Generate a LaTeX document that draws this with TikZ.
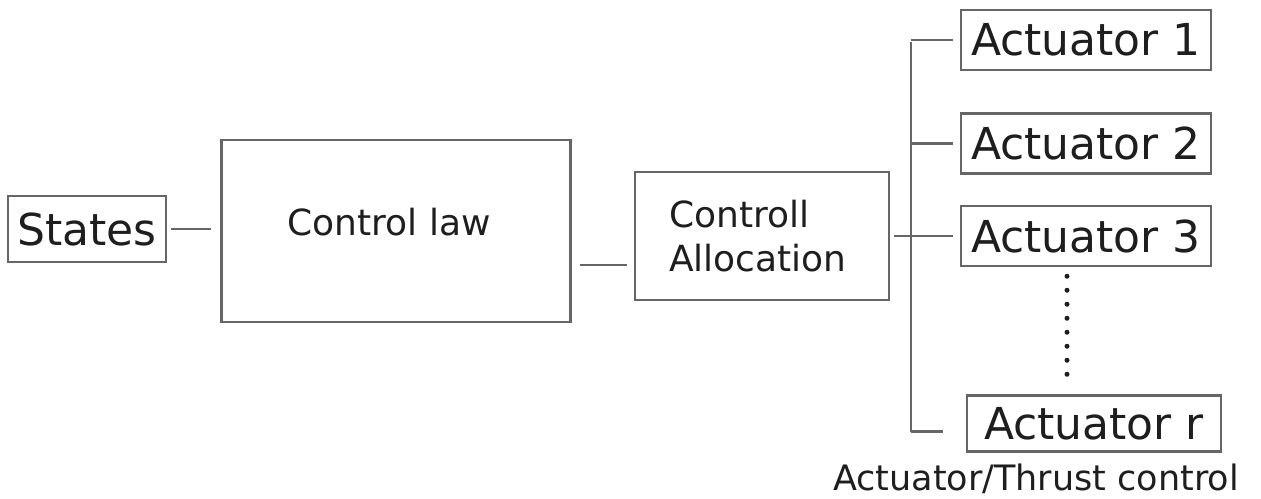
\documentclass[tikz,border=0pt]{standalone}
\usepackage{fontspec}
\setmainfont{DejaVu Sans}
\usetikzlibrary{positioning}
\definecolor{edgegray}{HTML}{666666}
\definecolor{inkgray}{HTML}{1E1E1E}
\tikzset{
    block/.style={draw=edgegray, line width=2.5pt, text=inkgray, inner sep=4pt},
    bigtext/.style={font=\fontsize{44pt}{50pt}\selectfont},
    midtext/.style={font=\fontsize{36pt}{44pt}\selectfont},
    actbox/.style={block, bigtext, minimum width=250pt, minimum height=60pt},
    wire/.style={draw=edgegray, line width=2.5pt},
    dotline/.style={draw=inkgray, line width=5pt, line cap=round, dash pattern=on 0pt off 14pt}
}

\begin{document}
\begin{tikzpicture}[x=1pt,y=-1pt]
\useasboundingbox (0,0) rectangle (1261,498);

\node[block,bigtext,minimum width=158pt,minimum height=66pt] (states) at (87,229) {States};
\node[block,midtext,minimum width=349pt,minimum height=182pt,text depth=18pt,
      right=55pt of states,yshift=-2pt,xshift=-2pt] (ctrl) {Control law\hspace*{14pt}};
\node[block,midtext,minimum width=254pt,minimum height=128pt,align=left,
      right=62pt of ctrl,yshift=-5pt] (alloc) {Controll\\Allocation\hspace*{8pt}};

\node[actbox] (act1) at (1086,40) {Actuator 1};
\node[actbox,below=41pt of act1] (act2) {Actuator 2};
\node[actbox,below=30pt of act2] (act3) {Actuator 3};
\node[actbox,minimum width=254pt,minimum height=56pt,below=127pt of act3,xshift=8pt] (actr) {Actuator r};
\node[font=\fontsize{35pt}{42pt}\selectfont,text=inkgray,inner sep=2pt,below=9pt of actr,xshift=-58pt] (caption) {Actuator/Thrust control};

% chain
\draw[wire,shorten <=4pt,shorten >=9pt] (states.east) -- (states.east -| ctrl.west);
\draw[wire,shorten <=8pt,shorten >=7pt] ([yshift=-34pt]ctrl.east) -- ([yshift=-34pt]ctrl.east -| alloc.west);

% bus to the actuators
\coordinate (bustop) at ([xshift=-49pt,yshift=-2pt]act1.west);
\path (bustop |- actr.west) ++(0,8) coordinate (busbot);
\draw[wire] (bustop) -- (busbot);
\foreach \act in {act1,act2,act3}
    \draw[wire,shorten >=7pt] (bustop |- \act.west) -- (\act.west);
\draw[wire,shorten >=23pt] (busbot) -- (busbot -| actr.west);
\draw[wire,shorten <=4pt] (alloc.east |- act3.west) -- (bustop |- act3.west);

% dots between actuator 3 and r
\coordinate (dotsx) at ([xshift=-19pt]act3.south);
\draw[dotline,shorten <=9pt,shorten >=12pt] (dotsx) -- (dotsx |- actr.north);
\end{tikzpicture}
\end{document}
